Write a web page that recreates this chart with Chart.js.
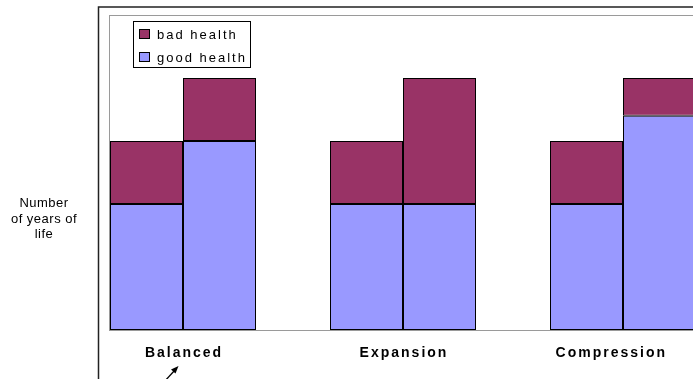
<!DOCTYPE html>
<html>
<head>
<meta charset="utf-8">
<script src="https://cdn.jsdelivr.net/npm/chart.js@4/dist/chart.umd.min.js"></script>
<style>
  html, body { margin: 0; padding: 0; background: #fff; overflow: hidden; }
  #wrap { width: 693px; height: 379px; overflow: hidden; position: relative; }
  canvas { display: block; }
</style>
</head>
<body>
<div id="wrap"><canvas id="c" width="760" height="379"></canvas></div>
<script>
// Scenario categories and years of life, split into healthy and unhealthy years
const categories = ['Balanced', 'Expansion', 'Compression'];
const goodHealthNow = [50, 50, 50];
const badHealthNow = [25, 25, 25];
const goodHealthLater = [75, 50, 85];
const badHealthLater = [25, 50, 15];
const seriesNames = ['bad health', 'good health'];
const axisTitleLines = ['Number', 'of years of', 'life'];

const BAD = '#993366';
const GOOD = '#9999FF';
const FONT = '"Liberation Sans", Arial, sans-serif';

function setSpacing(ctx, px) {
  if ('letterSpacing' in ctx) ctx.letterSpacing = px + 'px';
}

const decor = {
  id: 'decor',
  beforeDatasetsDraw(chart) {
    const ctx = chart.ctx;
    const area = chart.chartArea;
    const first = chart.getDatasetMeta(0).data[0];
    const plotLeft = first.x - first.width / 2;
    ctx.save();
    // outer frame
    ctx.strokeStyle = '#222';
    ctx.lineWidth = 1.5;
    ctx.strokeRect(98.5, 7, 2000, 2000);
    // plot area frame
    ctx.strokeStyle = '#9a9a9a';
    ctx.lineWidth = 1;
    ctx.strokeRect(Math.round(plotLeft) - 0.5, area.top + 0.5, 2000, area.bottom - area.top);
    ctx.restore();
  },
  afterDatasetsDraw(chart) {
    const ctx = chart.ctx;
    const xs = chart.scales.x;
    const area = chart.chartArea;
    ctx.save();

    // category labels, kept inside the visible frame
    ctx.fillStyle = '#000';
    ctx.font = 'bold 14px ' + FONT;
    setSpacing(ctx, 2);
    ctx.textAlign = 'center';
    ctx.textBaseline = 'alphabetic';
    const labelRightLimit = 666;
    categories.forEach((c, i) => {
      const w = ctx.measureText(c).width;
      let x = xs.getPixelForValue(i);
      x = Math.min(x, labelRightLimit - w / 2);
      ctx.fillText(c, x + 1, area.bottom + 27);
    });

    // value axis title
    ctx.font = '13px ' + FONT;
    setSpacing(ctx, 0.5);
    const lineY = [207, 222.5, 238];
    axisTitleLines.forEach((t, i) => ctx.fillText(t, 44, lineY[i]));

    // legend
    setSpacing(ctx, 2);
    ctx.strokeStyle = '#000';
    ctx.lineWidth = 1;
    ctx.fillStyle = '#fff';
    ctx.fillRect(133.5, 21.5, 117, 46);
    ctx.strokeRect(133.5, 21.5, 117, 46);
    const swatch = [BAD, GOOD];
    const rowY = [29, 52];
    ctx.font = '13px ' + FONT;
    ctx.textAlign = 'left';
    seriesNames.forEach((n, i) => {
      ctx.fillStyle = swatch[i];
      ctx.fillRect(139.5, rowY[i] + 0.5, 10, 9);
      ctx.strokeRect(139.5, rowY[i] + 0.5, 10, 9);
      ctx.fillStyle = '#000';
      ctx.fillText(n, 157, rowY[i] + 9.5);
    });

    // pointer arrow under the first scenario
    ctx.strokeStyle = '#000';
    ctx.fillStyle = '#000';
    ctx.lineWidth = 1.3;
    ctx.beginPath();
    ctx.moveTo(164, 382);
    ctx.lineTo(175, 370);
    ctx.stroke();
    ctx.beginPath();
    ctx.moveTo(178.5, 366);
    ctx.lineTo(171, 369.5);
    ctx.lineTo(175.5, 373.5);
    ctx.closePath();
    ctx.fill();

    ctx.restore();
  }
};

const barStyle = {
  borderColor: '#000',
  borderWidth: 1,
  borderSkipped: false,
  categoryPercentage: 146 / 220,
  barPercentage: 1
};

new Chart(document.getElementById('c'), {
  type: 'bar',
  data: {
    labels: categories,
    datasets: [
      Object.assign({ label: seriesNames[1], data: goodHealthNow, backgroundColor: GOOD, stack: 'now' }, barStyle),
      Object.assign({ label: seriesNames[0], data: badHealthNow, backgroundColor: BAD, stack: 'now' }, barStyle),
      Object.assign({ label: seriesNames[1], data: goodHealthLater, backgroundColor: GOOD, stack: 'later' }, barStyle),
      Object.assign({ label: seriesNames[0], data: badHealthLater, backgroundColor: BAD, stack: 'later' }, barStyle)
    ]
  },
  options: {
    responsive: false,
    devicePixelRatio: 1,
    animation: false,
    layout: { padding: { left: 73, right: 27, top: 15, bottom: 49 } },
    plugins: { legend: { display: false }, tooltip: { enabled: false } },
    scales: {
      x: { display: false, stacked: true, offset: true },
      y: { display: false, stacked: true, min: 0, max: 125 }
    }
  },
  plugins: [decor]
});
</script>
</body>
</html>
